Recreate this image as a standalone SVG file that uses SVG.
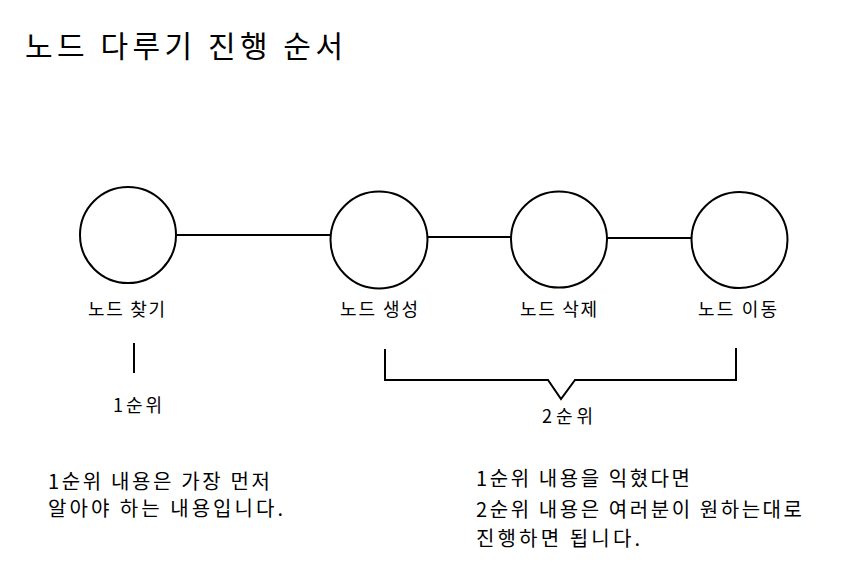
<svg xmlns="http://www.w3.org/2000/svg" width="865" height="574" viewBox="0 0 865 574">
<style>
text{font-family:"Noto Sans CJK KR","Noto Sans",sans-serif;fill:#000}
.t{font-size:30px}
.l{font-size:18px}
.p{font-size:20px}
.node{fill:#fff;stroke:#000;stroke-width:2}
.c{fill:none;stroke:#000;stroke-width:2;stroke-linejoin:miter}
</style>
<rect width="865" height="574" fill="#fff"/>
<text class="t" x="25" y="57" textLength="318" lengthAdjust="spacing">노드 다루기 진행 순서</text>
<g id="connectors">
<line class="c" x1="177" y1="235" x2="330" y2="235"/>
<line class="c" x1="428" y1="237" x2="511" y2="237"/>
<line class="c" x1="607" y1="238" x2="691" y2="238"/>
<line class="c" x1="134" y1="343" x2="134" y2="373"/>
<polyline class="c" points="385,349 385,380 548,380 561,399 575,380 736,380 736,348"/>
</g>
<g id="node-find">
<circle class="node" cx="128" cy="235" r="48"/>
<text class="l" x="88" y="316" textLength="77" lengthAdjust="spacing">노드 찾기</text>
</g>
<g id="node-create">
<circle class="node" cx="379" cy="240" r="48.5"/>
<text class="l" x="340" y="316" textLength="78" lengthAdjust="spacing">노드 생성</text>
</g>
<g id="node-delete">
<circle class="node" cx="559" cy="239.5" r="48"/>
<text class="l" x="520" y="316" textLength="77" lengthAdjust="spacing">노드 삭제</text>
</g>
<g id="node-move">
<circle class="node" cx="739.5" cy="240" r="48"/>
<text class="l" x="698" y="316" textLength="79" lengthAdjust="spacing">노드 이동</text>
</g>
<g id="label-1">
<text class="l" x="113" y="412" textLength="49" lengthAdjust="spacing">1순위</text>
</g>
<g id="label-2">
<text class="l" x="542" y="423" textLength="51" lengthAdjust="spacing">2순위</text>
</g>
<g id="note-1">
<text class="p" x="48" y="489" textLength="222" lengthAdjust="spacing">1순위 내용은 가장 먼저</text>
<text class="p" x="48" y="516" textLength="235" lengthAdjust="spacing">알아야 하는 내용입니다.</text>
</g>
<g id="note-2">
<text class="p" x="476" y="486" textLength="214" lengthAdjust="spacing">1순위 내용을 익혔다면</text>
<text class="p" x="476" y="517" textLength="326" lengthAdjust="spacing">2순위 내용은 여러분이 원하는대로</text>
<text class="p" x="476" y="546" textLength="164" lengthAdjust="spacing">진행하면 됩니다.</text>
</g>
</svg>
